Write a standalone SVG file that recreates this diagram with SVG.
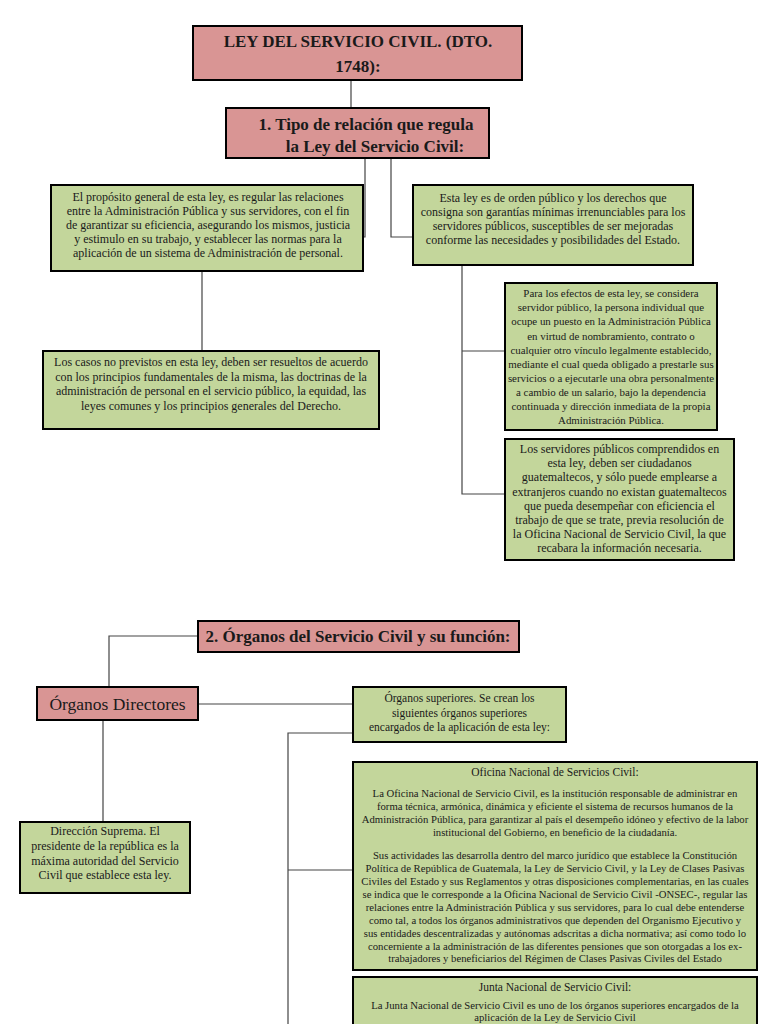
<svg xmlns="http://www.w3.org/2000/svg" width="768" height="1024" viewBox="0 0 768 1024">
<style>
.pink{fill:#d99594;stroke:#000;stroke-width:2}
.green{fill:#c3d69b;stroke:#000;stroke-width:2}
.t{font-family:"Liberation Serif",serif;fill:#1a1a1a;text-anchor:middle}
.h{font-weight:bold;font-size:17px}
.b12{font-size:12px}
.b11{font-size:10.7px}
.con{fill:none;stroke:#444;stroke-width:1.2}
</style>
<rect width="768" height="1024" fill="#fff"/>
<g id="connectors">
<path class="con" d="M351 80V108"/>
<path class="con" d="M365 158V237H363"/>
<path class="con" d="M391 158V237H413"/>
<path class="con" d="M202 271V351"/>
<path class="con" d="M462 265V494H505M462 351H505"/>
<path class="con" d="M198 636H109V687"/>
<path class="con" d="M198 704H353"/>
<path class="con" d="M103 720V822"/>
<path class="con" d="M353 733H288V1024M288 870H353"/>
</g>
<g id="title">
<rect class="pink" x="193" y="26" width="329" height="54"/>
<text class="t h" x="358" y="47">LEY DEL SERVICIO CIVIL. (DTO.</text>
<text class="t h" x="358" y="72">1748):</text>
</g>
<g id="tipo">
<rect class="pink" x="226" y="108" width="263" height="50"/>
<text class="t h" x="366" y="130">1. Tipo de relación que regula</text>
<text class="t h" x="375" y="152">la Ley del Servicio Civil:</text>
</g>
<g id="proposito">
<rect class="green" x="51" y="185" width="312" height="86"/>
<text class="t b12" x="208"><tspan x="208" y="201">El propósito general de esta ley, es regular las relaciones</tspan><tspan x="208" y="215">entre la Administración Pública y sus servidores, con el fin</tspan><tspan x="208" y="229">de garantizar su eficiencia, asegurando los mismos, justicia</tspan><tspan x="208" y="243">y estimulo en su trabajo, y establecer las normas para la</tspan><tspan x="208" y="257">aplicación de un sistema de Administración de personal.</tspan></text>
</g>
<g id="orden">
<rect class="green" x="413" y="185" width="280" height="80"/>
<text class="t b12"><tspan x="553" y="202">Esta ley es de orden público y los derechos que</tspan><tspan x="553" y="216">consigna son garantías mínimas irrenunciables para los</tspan><tspan x="553" y="230">servidores públicos, susceptibles de ser mejoradas</tspan><tspan x="553" y="244">conforme las necesidades y posibilidades del Estado.</tspan></text>
</g>
<g id="casos">
<rect class="green" x="43" y="351" width="336" height="78"/>
<text class="t b12"><tspan x="211" y="366">Los casos no previstos en esta ley, deben ser resueltos de acuerdo</tspan><tspan x="211" y="380.5">con los principios fundamentales de la misma, las doctrinas de la</tspan><tspan x="211" y="395">administración de personal en el servicio público, la equidad, las</tspan><tspan x="211" y="409.5">leyes comunes y los principios generales del Derecho.</tspan></text>
</g>
<g id="efectos">
<rect class="green" x="505" y="283" width="212" height="147"/>
<text class="t b12" style="font-size:10.9px"><tspan x="611" y="297">Para los efectos de esta ley, se considera</tspan><tspan x="611" y="311">servidor público, la persona individual que</tspan><tspan x="611" y="325">ocupe un puesto en la Administración Pública</tspan><tspan x="611" y="339.5">en virtud de nombramiento, contrato o</tspan><tspan x="611" y="353.5">cualquier otro vínculo legalmente establecido,</tspan><tspan x="611" y="367.5">mediante el cual queda obligado a prestarle sus</tspan><tspan x="611" y="381.5">servicios o a ejecutarle una obra personalmente</tspan><tspan x="611" y="396">a cambio de un salario, bajo la dependencia</tspan><tspan x="611" y="410">continuada y dirección inmediata de la propia</tspan><tspan x="611" y="424">Administración Pública.</tspan></text>
</g>
<g id="servidores">
<rect class="green" x="505" y="439" width="229" height="121"/>
<text class="t b12"><tspan x="619.5" y="453">Los servidores públicos comprendidos en</tspan><tspan x="619.5" y="467">esta ley, deben ser ciudadanos</tspan><tspan x="619.5" y="481">guatemaltecos, y sólo puede emplearse a</tspan><tspan x="619.5" y="495.5">extranjeros cuando no existan guatemaltecos</tspan><tspan x="619.5" y="509.5">que pueda desempeñar con eficiencia el</tspan><tspan x="619.5" y="523.5">trabajo de que se trate, previa resolución de</tspan><tspan x="619.5" y="537.5">la Oficina Nacional de Servicio Civil, la que</tspan><tspan x="619.5" y="552">recabara la información necesaria.</tspan></text>
</g>
<g id="organos">
<rect class="pink" x="198" y="621" width="321" height="31"/>
<text class="t h" x="358" y="642">2. Órganos del Servicio Civil y su función:</text>
</g>
<g id="directores">
<rect class="pink" x="37" y="687" width="161" height="33"/>
<text class="t" style="font-size:17.5px" x="117.5" y="710">Órganos Directores</text>
</g>
<g id="superiores">
<rect class="green" x="353" y="687" width="213" height="55"/>
<text class="t b12" style="font-size:11.5px"><tspan x="459.5" y="702">Órganos superiores. Se crean los</tspan><tspan x="459.5" y="716.5">siguientes órganos superiores</tspan><tspan x="459.5" y="731">encargados de la aplicación de esta ley:</tspan></text>
</g>
<g id="direccion">
<rect class="green" x="20" y="822" width="170" height="71"/>
<text class="t b12"><tspan x="105" y="835">Dirección Suprema. El</tspan><tspan x="105" y="850">presidente de la república es la</tspan><tspan x="105" y="865">máxima autoridad del Servicio</tspan><tspan x="105" y="879">Civil que establece esta ley.</tspan></text>
</g>
<g id="onsec">
<rect class="green" x="353" y="762" width="404" height="208"/>
<text class="t b11"><tspan x="555" y="776" style="font-size:11.5px">Oficina Nacional de Servicios Civil:</tspan><tspan x="555" y="797">La Oficina Nacional de Servicio Civil, es la institución responsable de administrar en</tspan><tspan x="555" y="810">forma técnica, armónica, dinámica y eficiente el sistema de recursos humanos de la</tspan><tspan x="555" y="823">Administración Pública, para garantizar al país el desempeño idóneo y efectivo de la labor</tspan><tspan x="555" y="836">institucional del Gobierno, en beneficio de la ciudadanía.</tspan><tspan x="555" y="859">Sus actividades las desarrolla dentro del marco jurídico que establece la Constitución</tspan><tspan x="555" y="872">Política de República de Guatemala, la Ley de Servicio Civil, y la Ley de Clases Pasivas</tspan><tspan x="555" y="885">Civiles del Estado y sus Reglamentos y otras disposiciones complementarias, en las cuales</tspan><tspan x="555" y="898">se indica que le corresponde a la Oficina Nacional de Servicio Civil -ONSEC-, regular las</tspan><tspan x="555" y="911">relaciones entre la Administración Pública y sus servidores, para lo cual debe entenderse</tspan><tspan x="555" y="924">como tal, a todos los órganos administrativos que dependen del Organismo Ejecutivo y</tspan><tspan x="555" y="937">sus entidades descentralizadas y autónomas adscritas a dicha normativa; así como todo lo</tspan><tspan x="555" y="950">concerniente a la administración de las diferentes pensiones que son otorgadas a los ex-</tspan><tspan x="555" y="962">trabajadores y beneficiarios del Régimen de Clases Pasivas Civiles del Estado</tspan></text>
</g>
<g id="junta">
<rect class="green" x="353" y="977" width="404" height="60"/>
<text class="t b11"><tspan x="555" y="991" style="font-size:11.5px">Junta Nacional de Servicio Civil:</tspan><tspan x="555" y="1009">La Junta Nacional de Servicio Civil es uno de los órganos superiores encargados de la</tspan><tspan x="555" y="1021">aplicación de la Ley de Servicio Civil</tspan></text>
</g>
</svg>
